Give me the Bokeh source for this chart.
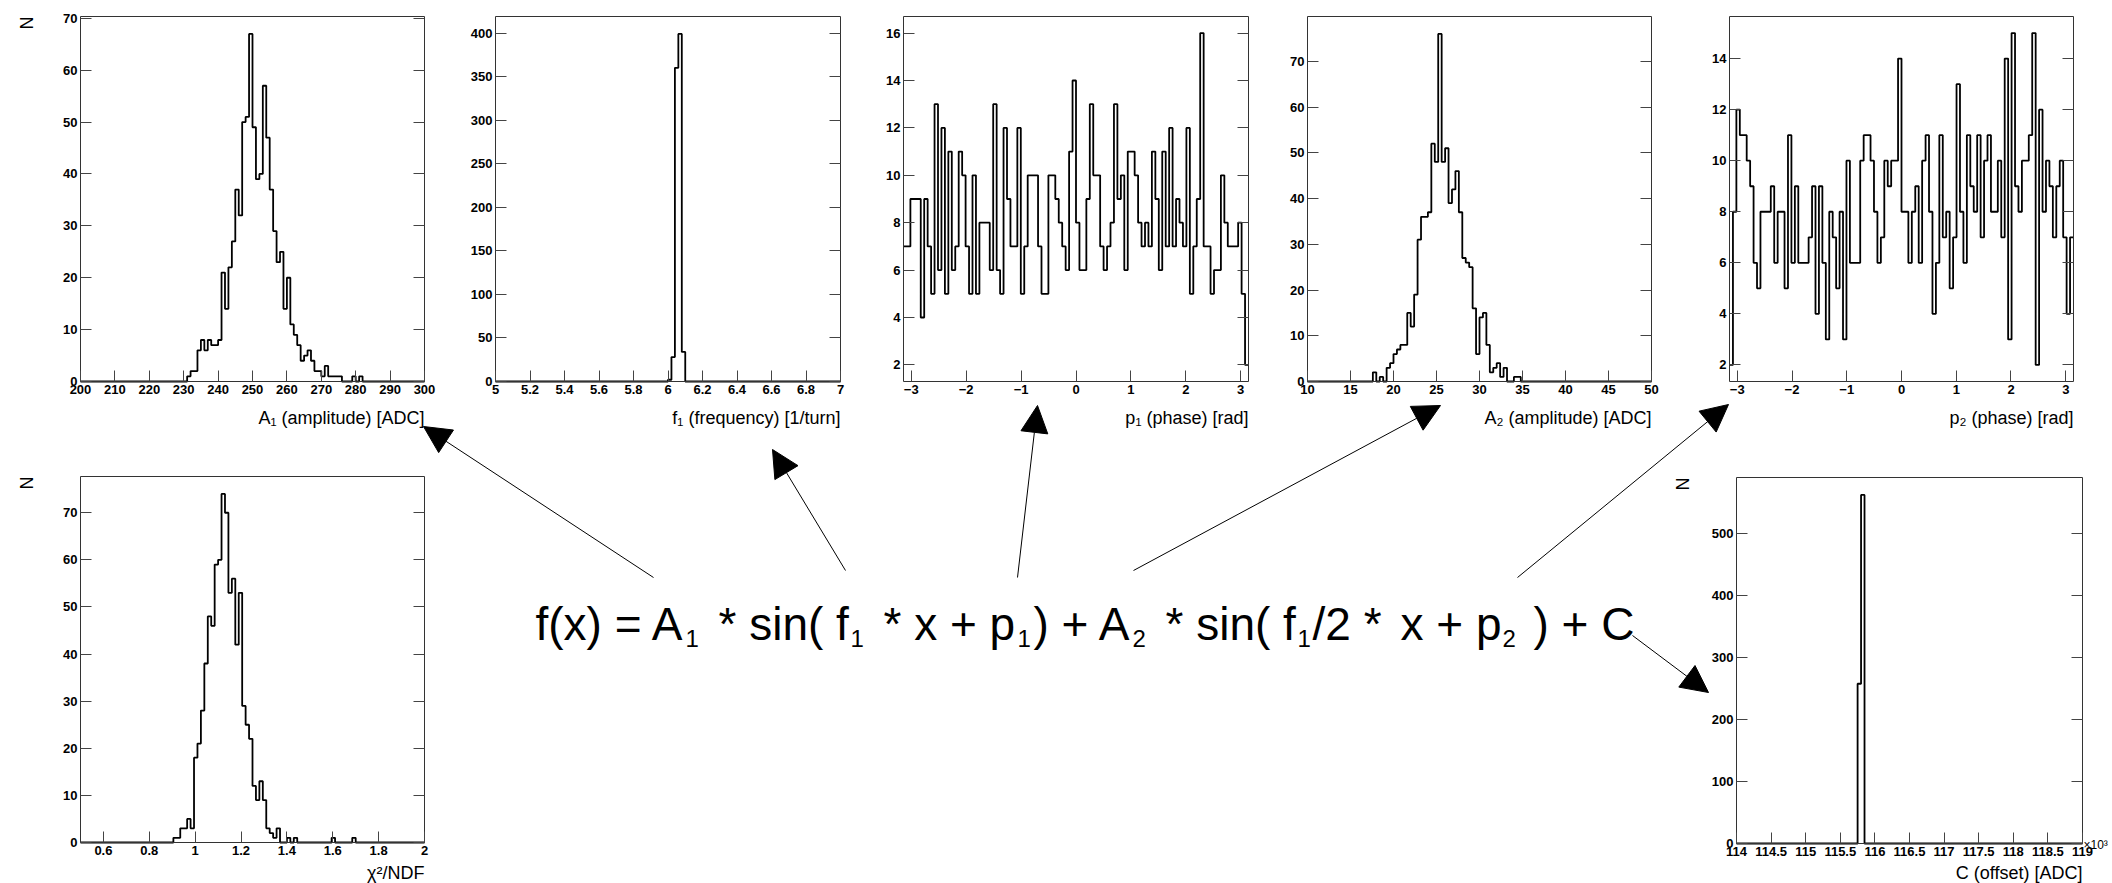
import math
import numpy as np
from bokeh.plotting import figure
from bokeh.models import (Range1d, LinearAxis, FixedTicker, CustomJSTickFormatter,
                          Label, Arrow, NormalHead)
from bokeh.core.properties import value
from bokeh.embed import file_html
from bokeh.resources import INLINE

W, H = 2112, 883
FONT = "Liberation Sans"

# ---------------- data ----------------
# A1 amplitude: 100 bins over 200..300, counts from bin starting at 231
A1_range = (200, 300)
A1_nbins = 100
A1_first_edge = 231
A1_counts = [1, 2, 2, 6, 8, 6, 8, 7, 7, 8, 21, 14, 22, 27, 37, 32, 50, 51, 67, 49,
             39, 40, 57, 47, 37, 29, 23, 25, 14, 20, 11, 9, 7, 4, 5, 6, 4, 2, 2, 1,
             3, 1, 1, 1, 1, 0, 0, 0, 1, 0, 1]
A1_xticks = [200, 210, 220, 230, 240, 250, 260, 270, 280, 290, 300]
A1_yticks = [0, 10, 20, 30, 40, 50, 60, 70]

# f1 frequency: 100 bins over 5..7
f1_range = (5, 7)
f1_nbins = 100
f1_first_edge = 6.0
f1_counts = [2, 28, 360, 399, 34]
f1_xticks = [5, 5.2, 5.4, 5.6, 5.8, 6, 6.2, 6.4, 6.6, 6.8, 7]
f1_yticks = [0, 50, 100, 150, 200, 250, 300, 350, 400]

# p1 phase: 100 bins over -pi..pi
p1_range = (-math.pi, math.pi)
p1_nbins = 100
p1_first_edge = -math.pi
p1_counts = [7, 7, 9, 9, 9, 4, 9, 7, 5, 13, 6, 12, 5, 11, 6, 7, 11, 10, 7, 5,
             10, 5, 8, 8, 8, 6, 13, 6, 5, 12, 9, 7, 7, 12, 5, 7, 10, 10, 10, 7,
             5, 5, 10, 10, 9, 8, 7, 6, 11, 14, 8, 6, 6, 9, 13, 10, 10, 7, 6, 7,
             8, 13, 9, 10, 6, 11, 11, 10, 8, 7, 8, 7, 11, 9, 6, 11, 7, 12, 7, 9,
             8, 7, 12, 5, 7, 9, 16, 7, 7, 5, 6, 6, 10, 8, 7, 7, 7, 8, 5, 2]
p1_xticks = [-3, -2, -1, 0, 1, 2, 3]
p1_yticks = [2, 4, 6, 8, 10, 12, 14, 16]

# A2 amplitude: 100 bins over 10..50, counts from bin starting at 17.6
A2_range = (10, 50)
A2_nbins = 100
A2_first_edge = 17.6
A2_counts = [2, 0, 1, 0, 3, 4, 6, 7, 8, 8, 15, 12, 19, 31, 36, 36, 37, 52, 48, 76,
             48, 51, 39, 42, 46, 37, 27, 26, 25, 16, 6, 14, 15, 8, 2, 3, 4, 1, 3, 0,
             0, 1, 1]
A2_xticks = [10, 15, 20, 25, 30, 35, 40, 45, 50]
A2_yticks = [0, 10, 20, 30, 40, 50, 60, 70]

# p2 phase: 100 bins over -pi..pi
p2_range = (-math.pi, math.pi)
p2_nbins = 100
p2_first_edge = -math.pi
p2_counts = [2, 8, 12, 11, 11, 10, 9, 6, 5, 8, 8, 8, 9, 6, 8, 8, 5, 11, 6, 9,
             6, 6, 6, 7, 9, 4, 9, 6, 3, 8, 7, 5, 8, 3, 10, 6, 6, 6, 10, 11,
             11, 10, 8, 6, 7, 10, 9, 10, 10, 14, 8, 8, 6, 8, 9, 6, 10, 11, 8, 4,
             6, 11, 7, 8, 5, 7, 13, 8, 6, 11, 9, 8, 11, 7, 10, 11, 8, 8, 10, 7,
             14, 3, 15, 9, 8, 10, 10, 11, 15, 2, 12, 8, 10, 9, 7, 9, 10, 7, 4, 7]
p2_xticks = [-3, -2, -1, 0, 1, 2, 3]
p2_yticks = [2, 4, 6, 8, 10, 12, 14]

# chi2/NDF: 100 bins over 0.5..2, counts from bin starting at 0.905
chi_range = (0.5, 2.0)
chi_nbins = 100
chi_first_edge = 0.905
chi_counts = [1, 1, 3, 3, 5, 3, 18, 21, 28, 38, 48, 46, 59, 60, 74, 70, 53, 56, 42, 53,
              29, 25, 22, 12, 9, 13, 9, 3, 2, 1, 3, 0, 0, 1, 0, 1, 0, 0, 0, 0,
              0, 0, 0, 0, 0, 0, 1, 0, 0, 0, 0, 0, 1]
chi_xticks = [0.6, 0.8, 1, 1.2, 1.4, 1.6, 1.8, 2]
chi_yticks = [0, 10, 20, 30, 40, 50, 60, 70]

# C offset (x10^3 ADC): 100 bins over 114..119
C_range = (114, 119)
C_nbins = 100
C_first_edge = 115.75
C_counts = [258, 563]
C_xticks = [114, 114.5, 115, 115.5, 116, 116.5, 117, 117.5, 118, 118.5, 119]
C_yticks = [0, 100, 200, 300, 400, 500]

# ---------------- layout (pixel frames) ----------------
panels = [
    dict(n="A1", rng=A1_range, nb=A1_nbins, first=A1_first_edge, c=A1_counts,
         xt=A1_xticks, yt=A1_yticks, zero=True, L=80, R=424, T=16, B=381, tdy=36,
         title="A\u2081 (amplitude) [ADC]", N=True),
    dict(n="f1", rng=f1_range, nb=f1_nbins, first=f1_first_edge, c=f1_counts,
         xt=f1_xticks, yt=f1_yticks, zero=True, L=495, R=840, T=16, B=381, tdy=36,
         title="f\u2081 (frequency) [1/turn]", N=False),
    dict(n="p1", rng=p1_range, nb=p1_nbins, first=p1_first_edge, c=p1_counts,
         xt=p1_xticks, yt=p1_yticks, zero=False, L=903, R=1248, T=16, B=381, tdy=36,
         title="p\u2081 (phase) [rad]", N=False),
    dict(n="A2", rng=A2_range, nb=A2_nbins, first=A2_first_edge, c=A2_counts,
         xt=A2_xticks, yt=A2_yticks, zero=True, L=1307, R=1651, T=16, B=381, tdy=36,
         title="A\u2082 (amplitude) [ADC]", N=False),
    dict(n="p2", rng=p2_range, nb=p2_nbins, first=p2_first_edge, c=p2_counts,
         xt=p2_xticks, yt=p2_yticks, zero=False, L=1729, R=2073, T=16, B=381, tdy=36,
         title="p\u2082 (phase) [rad]", N=False),
    dict(n="chi", rng=chi_range, nb=chi_nbins, first=chi_first_edge, c=chi_counts,
         xt=chi_xticks, yt=chi_yticks, zero=True, L=80, R=424, T=476, B=842, tdy=30,
         title="\u03c7\u00b2/NDF", N=True),
    dict(n="C", rng=C_range, nb=C_nbins, first=C_first_edge, c=C_counts,
         xt=C_xticks, yt=C_yticks, zero=True, L=1736, R=2082, T=477, B=843, tdy=29,
         title="C (offset) [ADC]", N=True),
]

p = figure(width=W, height=H, x_range=Range1d(0, W), y_range=Range1d(H, 0),
           output_backend="svg", toolbar_location=None, min_border=0,
           x_axis_type=None, y_axis_type=None)
p.outline_line_color = None
p.background_fill_color = "white"
p.border_fill_color = "white"

fmt_code = "return String(tick).replace('-', '\\u2212');"

def style_axis(ax, labels=True):
    ax.axis_line_color = None
    ax.major_tick_in = 11
    ax.major_tick_out = 0
    ax.major_tick_line_color = "#444444"
    ax.major_tick_line_width = 1
    ax.minor_tick_line_color = None
    ax.major_label_text_font = FONT
    ax.major_label_text_font_style = "bold"
    ax.major_label_text_font_size = "13px"
    ax.major_label_text_color = "black"
    ax.major_label_standoff = 3
    if not labels:
        ax.major_label_text_alpha = 0

for d in panels:
    n = d["n"]
    x0, x1 = d["rng"]
    nb = d["nb"]
    bw = (x1 - x0) / nb
    full = np.zeros(nb)
    i0 = int(round((d["first"] - x0) / bw))
    full[i0:i0 + len(d["c"])] = d["c"]
    cmax, cmin = max(d["c"]), min(d["c"])
    if d["zero"]:
        y0, y1 = 0.0, 1.05 * cmax
    else:
        y0, y1 = cmin - 0.05 * (cmax - cmin), cmax + 0.05 * (cmax - cmin)

    L, R, T, B = d["L"], d["R"], d["T"], d["B"]
    sx = (R - L) / (x1 - x0)
    sy = (B - T) / (y1 - y0)
    p.extra_x_ranges[n] = Range1d(x0 - L / sx, x1 + (W - R) / sx)
    p.extra_y_ranges[n] = Range1d(y0 - (H - B) / sy, y1 + T / sy)

    edges = x0 + bw * np.arange(nb + 1)
    ys = list(full) + [full[-1]]
    p.step(list(edges), ys, mode="after", x_range_name=n, y_range_name=n,
           line_color="black", line_width=1.8)

    p.quad(left=[x0], right=[x1], bottom=[y0], top=[y1], fill_color=None,
           line_color="#333333", line_width=1, x_range_name=n, y_range_name=n)

    xa = LinearAxis(x_range_name=n, y_range_name=n, fixed_location=y0, bounds=(x0, x1),
                    ticker=FixedTicker(ticks=d["xt"]),
                    formatter=CustomJSTickFormatter(code=fmt_code))
    style_axis(xa)
    p.add_layout(xa, "below")

    ya = LinearAxis(x_range_name=n, y_range_name=n, fixed_location=x0, bounds=(y0, y1),
                    ticker=FixedTicker(ticks=d["yt"]),
                    formatter=CustomJSTickFormatter(code=fmt_code))
    style_axis(ya)
    p.add_layout(ya, "left")

    yr = LinearAxis(x_range_name=n, y_range_name=n, fixed_location=x1, bounds=(y0, y1),
                    ticker=FixedTicker(ticks=d["yt"]),
                    formatter=CustomJSTickFormatter(code=fmt_code))
    style_axis(yr, labels=False)
    p.add_layout(yr, "right")

    p.add_layout(Label(x=R, y=B + d["tdy"], text=d["title"], text_align="right",
                       text_baseline="alphabetic", text_font=FONT,
                       text_font_size="18px", text_color="black"))
    if d["N"]:
        p.add_layout(Label(x=L - 54, y=T, text="N", angle=math.pi / 2,
                           text_align="right", text_baseline="middle",
                           text_font=FONT, text_font_size="18px", text_color="black"))
    if n == "C":
        p.add_layout(Label(x=R + 1, y=B + 1, text="\u00d710\u00b3", text_align="left",
                           text_baseline="alphabetic", text_font=FONT,
                           text_font_size="12px", text_color="black"))

# ---------------- formula ----------------
main_txt = ["f(x) = A", "* sin( f", "* x + p", ") + A", "* sin( f", "/2 *", "x + p", ") + C"]
main_x = [535, 718, 883, 1033, 1165, 1312, 1400, 1533]
sub_txt = ["1", "1", "1", "2", "1", "2"]
sub_x = [685, 850, 1017, 1132, 1297, 1502]

p.text(x=main_x, y=[623] * len(main_x), text=main_txt, text_font=value(FONT),
       text_font_size="46px", text_baseline="alphabetic", text_align="left",
       text_color="black")
p.text(x=sub_x, y=[638] * len(sub_x), text=sub_txt, text_font=value(FONT),
       text_font_size="24px", text_baseline="alphabetic", text_align="left",
       text_color="black")

# ---------------- arrows ----------------
arrows = [((653, 577), (423, 426)), ((845, 570), (772, 449)), ((1017, 577), (1037, 405)),
          ((1133, 570), (1440, 405)), ((1517, 577), (1728, 404)), ((1632, 635), (1708, 692))]
for (xs_, ys_), (xe, ye) in arrows:
    p.add_layout(Arrow(x_start=xs_, y_start=ys_, x_end=xe, y_end=ye, line_color="black",
                       line_width=1,
                       end=NormalHead(size=27, fill_color="black", line_color="black")))

open("out.html", "w").write(file_html(p, INLINE))
